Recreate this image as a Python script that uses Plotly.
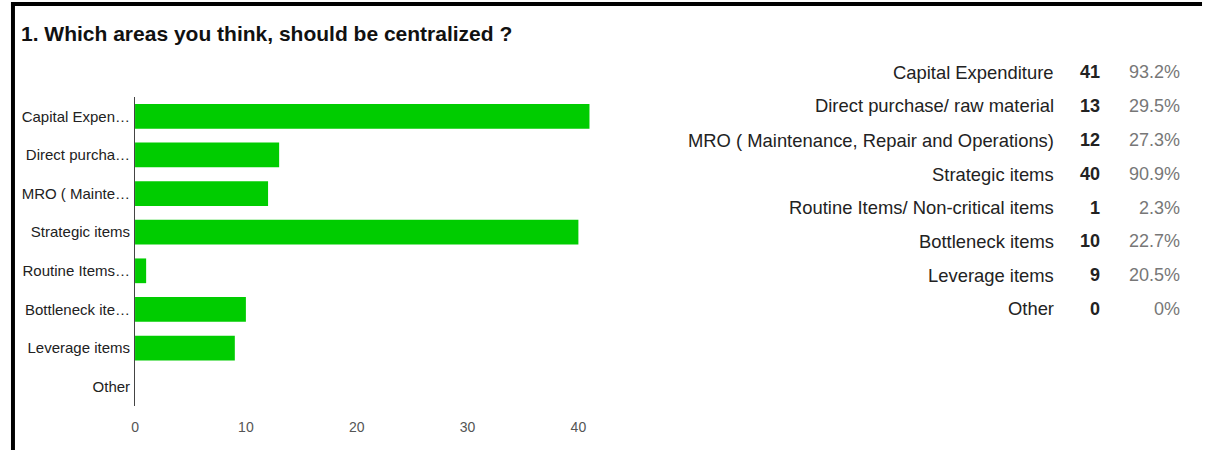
import plotly.graph_objects as go

W, H = 1207, 450

title_text = "1. Which areas you think, should be centralized ?"
categories = [
    "Capital Expenditure",
    "Direct purchase/ raw material",
    "MRO ( Maintenance, Repair and Operations)",
    "Strategic items",
    "Routine Items/ Non-critical items",
    "Bottleneck items",
    "Leverage items",
    "Other",
]
short_labels = [
    "Capital Expen\u2026",
    "Direct purcha\u2026",
    "MRO ( Mainte\u2026",
    "Strategic items",
    "Routine Items\u2026",
    "Bottleneck ite\u2026",
    "Leverage items",
    "Other",
]
counts = [41, 13, 12, 40, 1, 10, 9, 0]
percents = ["93.2%", "29.5%", "27.3%", "90.9%", "2.3%", "22.7%", "20.5%", "0%"]
x_ticks = [0, 10, 20, 30, 40]

FONT = "Arial, Liberation Sans, sans-serif"

def px_x(x):
    return x / W

def px_y(y):
    return 1 - y / H

fig = go.Figure()
fig.add_trace(go.Bar(
    x=counts,
    y=categories,
    orientation="h",
    width=0.64,
    marker=dict(color="#00cc00", line=dict(width=0)),
    hoverinfo="x+y",
))

fig.update_layout(
    width=W, height=H,
    margin=dict(l=0, r=0, t=0, b=0),
    paper_bgcolor="white",
    plot_bgcolor="white",
    showlegend=False,
    font=dict(family=FONT, size=12, color="#222222"),
)

x0px = 131.5
unit = 11.12
fig.update_xaxes(
    domain=[px_x(x0px), px_x(x0px + 41.4 * unit)],
    range=[0, 41.4],
    tickvals=x_ticks,
    ticktext=[str(v) for v in x_ticks],
    showgrid=False, zeroline=False, showline=False,
    tickfont=dict(family=FONT, size=14, color="#555555"),
    ticks="", ticklabelstandoff=11,
    fixedrange=True,
)
fig.update_yaxes(
    domain=[px_y(406), px_y(97)],
    categoryorder="array",
    categoryarray=categories,
    autorange="reversed",
    tickvals=categories,
    ticktext=short_labels,
    showgrid=False, zeroline=False,
    showline=True, linecolor="#444444", linewidth=1,
    tickfont=dict(family=FONT, size=15, color="#222222"),
    ticks="", ticklabelstandoff=1,
    fixedrange=True,
)

annotations = [
    dict(text="<b>" + title_text + "</b>", x=px_x(15), y=px_y(33),
         xref="paper", yref="paper", xanchor="left", yanchor="middle",
         showarrow=False, font=dict(family=FONT, size=21, color="#111111")),
]
row_y = [72, 106, 140, 174, 207.5, 241, 275, 308.5]
for cat, c, p, ry in zip(categories, counts, percents, row_y):
    annotations.append(dict(text=cat, x=px_x(1055), y=px_y(ry), xref="paper", yref="paper",
                            xanchor="right", yanchor="middle", showarrow=False,
                            font=dict(family=FONT, size=18.4, color="#222222")))
    annotations.append(dict(text="<b>%d</b>" % c, x=px_x(1102), y=px_y(ry), xref="paper", yref="paper",
                            xanchor="right", yanchor="middle", showarrow=False,
                            font=dict(family=FONT, size=18, color="#222222")))
    annotations.append(dict(text=p, x=px_x(1182), y=px_y(ry), xref="paper", yref="paper",
                            xanchor="right", yanchor="middle", showarrow=False,
                            font=dict(family=FONT, size=18, color="#777777")))
fig.update_layout(annotations=annotations)

shapes = [
    dict(type="rect", xref="paper", yref="paper", x0=px_x(7), x1=px_x(1202), y0=px_y(6), y1=px_y(2),
         fillcolor="black", line=dict(width=0), layer="above"),
    dict(type="rect", xref="paper", yref="paper", x0=px_x(7), x1=px_x(11), y0=0, y1=px_y(2),
         fillcolor="black", line=dict(width=0), layer="above"),
]
fig.update_layout(shapes=shapes)

fig.write_html("out.html", config={"displayModeBar": False})
